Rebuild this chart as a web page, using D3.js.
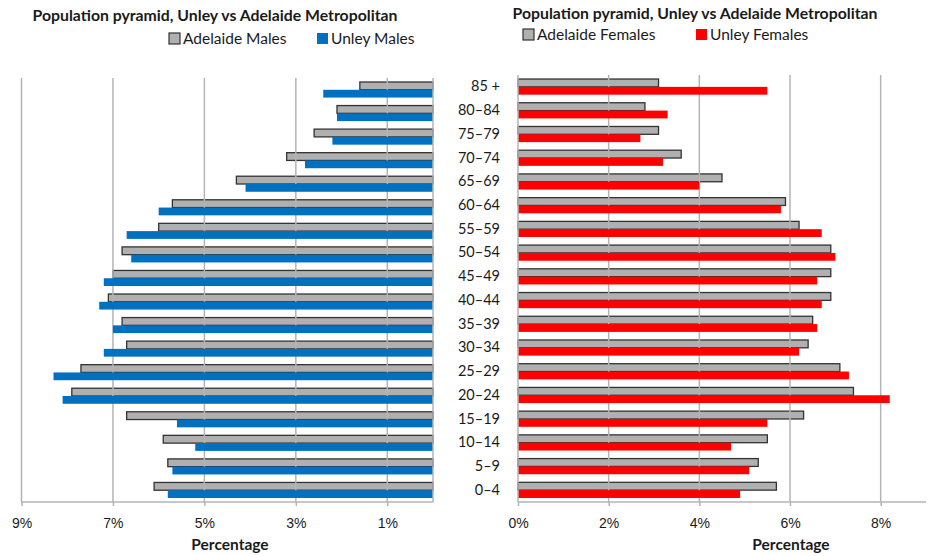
<!DOCTYPE html>
<html>
<head>
<meta charset="utf-8">
<script src="https://cdn.jsdelivr.net/npm/d3@7"></script>
<style>
  body { margin: 0; background: #fff; }
  svg { display: block; font-family: Lato, "Open Sans", sans-serif; }
  .title { font-weight: bold; font-size: 15.8px; fill: #1a1a1a; }
  .legend { font-size: 15.5px; fill: #1a1a1a; }
  .axis-title { font-weight: bold; font-size: 15.5px; fill: #1a1a1a; }
  .tick text { font-size: 14px; fill: #1a1a1a; }
  .age { font-size: 14.5px; fill: #1a1a1a; }
</style>
</head>
<body>
<svg id="chart" width="933" height="556"></svg>
<script>
// age groups, top to bottom
const ages = ['85 +', '80–84', '75–79', '70–74', '65–69', '60–64', '55–59', '50–54', '45–49',
              '40–44', '35–39', '30–34', '25–29', '20–24', '15–19', '10–14', '5–9', '0–4'];
// percent of population
const adelaideMales   = [1.6, 2.1, 2.6, 3.2, 4.3, 5.7, 6.0, 6.8, 7.0, 7.1, 6.8, 6.7, 7.7, 7.9, 6.7, 5.9, 5.8, 6.1];
const unleyMales      = [2.4, 2.1, 2.2, 2.8, 4.1, 6.0, 6.7, 6.6, 7.2, 7.3, 7.0, 7.2, 8.3, 8.1, 5.6, 5.2, 5.7, 5.8];
const adelaideFemales = [3.1, 2.8, 3.1, 3.6, 4.5, 5.9, 6.2, 6.9, 6.9, 6.9, 6.5, 6.4, 7.1, 7.4, 6.3, 5.5, 5.3, 5.7];
const unleyFemales    = [5.5, 3.3, 2.7, 3.2, 4.0, 5.8, 6.7, 7.0, 6.6, 6.7, 6.6, 6.2, 7.3, 8.2, 5.5, 4.7, 5.1, 4.9];
const leftTicks = [9, 7, 5, 3, 1];
const rightTicks = [0, 2, 4, 6, 8];

const svg = d3.select('#chart');
const gray = '#b0b0b0', blue = '#0070c0', red = '#ff0000', gridColor = '#b4b4b4';

// one half of the pyramid
function drawSide(opts) {
    let g = svg.append('g');
    let x = d3.scaleLinear().domain([0, 9]).range(opts.range);
    let y = d3.scaleBand().domain(ages).range([opts.top, opts.bottom]).paddingInner(0.34).paddingOuter(0.17);
    let sub = d3.scaleBand().domain(['a', 'u']).range([0, y.bandwidth()]);
    let x0 = x(0);
    let xEnd = x(9);

    let rows = ages.map((a, i) => ({age: a, adl: opts.adl[i], unl: opts.unl[i]}));

    // grey bars first, grid over them, coloured bars on top
    g.selectAll('.adl')
        .data(rows)
        .enter()
        .append('rect')
        .attr('class', 'adl')
        .attr('x', d => Math.min(x0, x(d.adl)))
        .attr('y', d => y(d.age) + sub('a'))
        .attr('width', d => Math.abs(x(d.adl) - x0))
        .attr('height', sub.bandwidth())
        .attr('fill', gray)
        .attr('stroke', '#333')
        .attr('stroke-width', 1.3);

    g.selectAll('.grid')
        .data(opts.ticks.filter(t => t !== 0))
        .enter()
        .append('line')
        .attr('class', 'grid')
        .attr('x1', d => x(d)).attr('x2', d => x(d))
        .attr('y1', opts.top).attr('y2', opts.bottom)
        .attr('stroke', gridColor)
        .attr('stroke-width', 1.5);

    g.selectAll('.unl')
        .data(rows)
        .enter()
        .append('rect')
        .attr('class', 'unl')
        .attr('x', d => Math.min(x0, x(d.unl)))
        .attr('y', d => y(d.age) + sub('u'))
        .attr('width', d => Math.abs(x(d.unl) - x0))
        .attr('height', sub.bandwidth())
        .attr('fill', opts.color);

    // vertical axis at zero
    g.append('line')
        .attr('x1', x0).attr('x2', x0)
        .attr('y1', opts.top).attr('y2', opts.bottom)
        .attr('stroke', gridColor)
        .attr('stroke-width', 1.5);

    // bottom axis
    let axis = d3.axisBottom(x)
        .tickValues(opts.ticks)
        .tickFormat(d => d + '%')
        .tickSize(4)
        .tickPadding(12);
    let ax = g.append('g')
        .attr('transform', 'translate(0,' + opts.bottom + ')')
        .call(axis);
    ax.select('.domain')
        .attr('d', 'M' + Math.min(x0, xEnd) + ',0H' + Math.max(x0, xEnd))
        .attr('stroke', gridColor)
        .attr('stroke-width', 1.5);
    ax.selectAll('.tick line').attr('stroke', gridColor).attr('stroke-width', 1.5);

    g.append('text')
        .attr('class', 'axis-title')
        .attr('x', opts.axisTitleX)
        .attr('y', 550)
        .attr('text-anchor', 'middle')
        .text('Percentage');

    g.append('text')
        .attr('class', 'title')
        .attr('x', opts.titleX)
        .attr('y', opts.titleY)
        .attr('text-anchor', 'middle')
        .text('Population pyramid, Unley vs Adelaide Metropolitan');

    // legend
    let lg = g.selectAll('.lg')
        .data(opts.legend)
        .enter()
        .append('g')
        .attr('transform', d => 'translate(' + d.x + ',' + opts.legendY + ')');
    lg.append('rect')
        .attr('x', 0).attr('y', -5.5)
        .attr('width', 11).attr('height', 11)
        .attr('fill', d => d.color)
        .attr('stroke', d => d.stroke || 'none')
        .attr('stroke-width', 1.2);
    lg.append('text')
        .attr('class', 'legend')
        .attr('x', 14)
        .attr('dy', '0.35em')
        .text(d => d.label);

    return y;
}

drawSide({
    range: [433, 21.5], top: 78, bottom: 502,
    adl: adelaideMales, unl: unleyMales, color: blue, ticks: leftTicks,
    axisTitleX: 230, titleX: 215, titleY: 21, legendY: 38.5,
    legend: [{x: 169, color: gray, stroke: '#333', label: 'Adelaide Males'},
             {x: 317, color: blue, label: 'Unley Males'}]
});

let yRight = drawSide({
    range: [518, 926], top: 75, bottom: 502,
    adl: adelaideFemales, unl: unleyFemales, color: red, ticks: rightTicks,
    axisTitleX: 791, titleX: 695, titleY: 19, legendY: 34.5,
    legend: [{x: 523, color: gray, stroke: '#333', label: 'Adelaide Females'},
             {x: 696, color: red, label: 'Unley Females'}]
});

// age labels between the halves
svg.append('g')
    .selectAll('text')
    .data(ages)
    .enter()
    .append('text')
    .attr('class', 'age')
    .attr('x', 500)
    .attr('y', d => yRight(d) + yRight.bandwidth() / 2 - 0.5)
    .attr('dy', '0.35em')
    .attr('text-anchor', 'end')
    .text(d => d);
</script>
</body>
</html>
